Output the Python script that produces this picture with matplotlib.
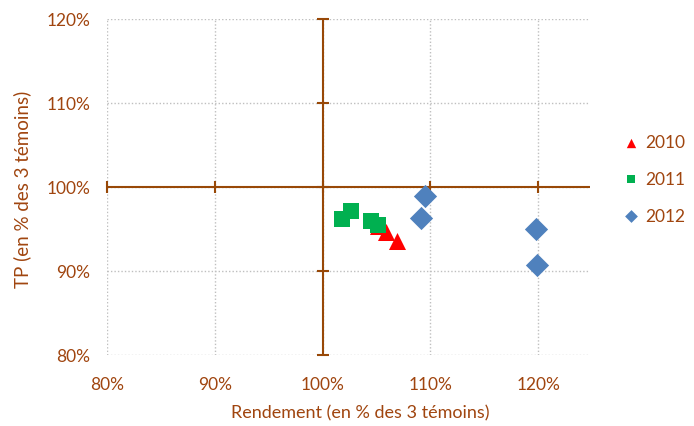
import matplotlib
matplotlib.use("Agg")
import matplotlib.pyplot as plt

plt.rcParams['font.family'] = ['Lato', 'DejaVu Sans']

# Data (% of 3 controls)
x2010 = [105.1, 105.9, 106.9]
y2010 = [95.4, 94.6, 93.6]
x2011 = [101.8, 102.6, 104.5, 105.1]
y2011 = [96.2, 97.1, 96.0, 95.5]
x2012 = [109.5, 109.1, 119.8, 119.9]
y2012 = [98.9, 96.3, 95.0, 90.7]

xticks = [80, 90, 100, 110, 120]
yticks = [80, 90, 100, 110, 120]
xlabel = "Rendement (en % des 3 témoins)"
ylabel = "TP (en % des 3 témoins)"

text_c = '#A0450F'
axis_c = '#984807'

fig = plt.figure(figsize=(6.94, 4.27), dpi=100)
ax = fig.add_axes([107/694, 1-356/427, (590-107)/694, (356-20)/427])
ax.set_xlim(80, 124.8)
ax.set_ylim(80, 120)

for s in ax.spines.values():
    s.set_visible(False)
ax.set_xticks(xticks)
ax.set_yticks(yticks)
ax.set_xticklabels([f"{v}%" for v in xticks])
ax.set_yticklabels([f"{v}%" for v in yticks])
ax.tick_params(axis='x', length=0, labelsize=12.5, labelcolor=text_c, pad=15)
ax.tick_params(axis='y', length=0, labelsize=12.5, labelcolor=text_c, pad=12)
ax.grid(True, color='#BFBFBF', linestyle=(0, (1, 1.5)), linewidth=1)
ax.set_axisbelow(True)

# axis lines crossing at 100%
ax.axhline(100, color=axis_c, lw=1.5, zorder=2)
ax.axvline(100, color=axis_c, lw=1.5, zorder=2)
ax.plot(xticks, [100]*len(xticks), linestyle='none', marker='|', ms=8, mew=1.5, color=axis_c, zorder=2, clip_on=False)
ax.plot([100]*len(yticks), yticks, linestyle='none', marker='_', ms=8, mew=1.5, color=axis_c, zorder=2, clip_on=False)

ax.scatter(x2010, y2010, marker='^', s=150, color='#FF0000', zorder=3, label='2010', linewidths=0)
ax.scatter(x2011, y2011, marker='s', s=125, color='#00B050', zorder=4, label='2011', linewidths=0)
ax.scatter(x2012, y2012, marker='D', s=140, color='#4F81BD', zorder=3, label='2012', linewidths=0)

ax.set_xlabel(xlabel, fontsize=13, color=text_c)
ax.set_ylabel(ylabel, fontsize=13.5, color=text_c)
ax.xaxis.set_label_coords(0.5 + (360 - 348.5) / 483, (356 - 413) / 336)
ax.yaxis.set_label_coords((22 - 107) / 483, 0.5 + (188 - 189) / 336)
ax.xaxis.label.set_va('center')
ax.yaxis.label.set_va('center')

leg = fig.legend(loc='center left', bbox_to_anchor=(612/694, 1-180/427), frameon=False,
                 fontsize=12.5, labelspacing=1.2, handletextpad=0.2, handlelength=1.2,
                 borderpad=0, markerscale=0.55)
for t in leg.get_texts():
    t.set_color(text_c)

fig.savefig('out.png', dpi=100)
